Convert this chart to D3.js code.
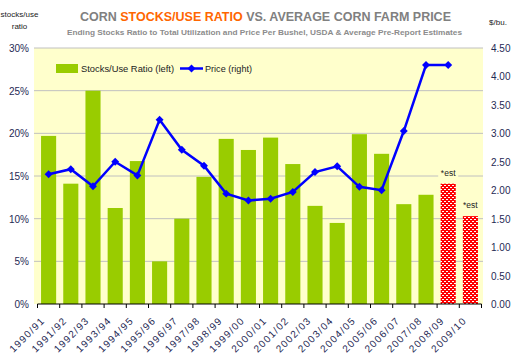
<!DOCTYPE html>
<html><head><meta charset="utf-8">
<script src="https://cdn.jsdelivr.net/npm/d3@7"></script>
<style>body{margin:0;background:#fff}svg{display:block}text{font-family:"Liberation Sans",Arial,sans-serif}</style>
</head><body><svg id="c" width="517" height="355"></svg>
<script>
const categories = ["1990/91","1991/92","1992/93","1993/94","1994/95","1995/96","1996/97","1997/98","1998/99","1999/00","2000/01","2001/02","2002/03","2003/04","2004/05","2005/06","2006/07","2007/08","2008/09","2009/10"];
const stocksUse = [19.7,14.1,25.0,11.25,16.75,5.0,10.0,14.9,19.35,18.05,19.5,16.4,11.5,9.5,19.9,17.6,11.7,12.8,14.1,10.3];
const estimated = [false,false,false,false,false,false,false,false,false,false,false,false,false,false,false,false,false,false,true,true];
const price = [2.28,2.37,2.07,2.50,2.26,3.24,2.71,2.43,1.94,1.82,1.85,1.97,2.32,2.42,2.06,2.00,3.04,4.20,4.20,null];
const leftTicks = [0,5,10,15,20,25,30];
const rightTicks = [0,0.5,1,1.5,2,2.5,3,3.5,4,4.5];

const svg = d3.select("#c");
const L = 37.5, R = 481.5, T = 48, B = 304;
const x = d3.scaleBand().domain(categories).range([L, R]).paddingInner(0.32).paddingOuter(0.16);
const yL = d3.scaleLinear().domain([0,30]).range([B,T]);
const yR = d3.scaleLinear().domain([0,4.5]).range([B,T]);
const labelCol = "#1f2a55";

const defs = svg.append("defs");
const pat = defs.append("pattern").attr("id","hatch").attr("patternUnits","userSpaceOnUse").attr("width",4).attr("height",4);
pat.append("rect").attr("width",4).attr("height",4).attr("fill","#ff0000");
pat.append("rect").attr("x",0).attr("y",1).attr("width",2).attr("height",1).attr("fill","#ffffff");
pat.append("rect").attr("x",2).attr("y",3).attr("width",2).attr("height",1).attr("fill","#ffffff");

// plot background
svg.append("rect").attr("x",34).attr("y",T).attr("width",483-34).attr("height",B-T).attr("fill","#ffffcc");

// gridlines
svg.append("g").selectAll("line").data(leftTicks.filter(d=>d>0)).join("line")
  .attr("x1",34).attr("x2",483).attr("y1",d=>yL(d)).attr("y2",d=>yL(d))
  .attr("stroke","#c0c0c0").attr("stroke-width",1);

// bars
svg.append("g").selectAll("rect").data(categories).join("rect")
  .attr("x",d=>x(d)).attr("width",x.bandwidth())
  .attr("y",(d,i)=>yL(stocksUse[i])).attr("height",(d,i)=>B-yL(stocksUse[i]))
  .attr("fill",(d,i)=>estimated[i]?"url(#hatch)":"#99cc00");

// est labels
categories.forEach((c,i)=>{
  if(!estimated[i]) return;
  const cx = x(c)+x.bandwidth()/2, yy = yL(stocksUse[i])-8;
  svg.append("rect").attr("x",cx-10).attr("y",yy-8).attr("width",20).attr("height",11).attr("fill","#ffffcc");
  svg.append("text").attr("x",cx).attr("y",yy).attr("text-anchor","middle").attr("font-size",8.5).attr("fill","#222").text("*est");
});

// price line
const pts = categories.map((c,i)=>({c,v:price[i]})).filter(d=>d.v!=null);
const line = d3.line().x(d=>x(d.c)+x.bandwidth()/2).y(d=>yR(d.v));
svg.append("path").datum(pts).attr("d",line).attr("fill","none").attr("stroke","#0000ff").attr("stroke-width",2.5);
svg.append("g").selectAll("path").data(pts).join("path")
  .attr("d",d3.symbol(d3.symbolDiamond2,40))
  .attr("transform",d=>`translate(${x(d.c)+x.bandwidth()/2},${yR(d.v)})`)
  .attr("fill","#0000ff");

// x axis
const xAxisG = svg.append("g").attr("transform",`translate(0,${B})`);
xAxisG.append("line").attr("x1",L).attr("x2",R).attr("stroke","#000").attr("stroke-width",1.2);
const tickPos = categories.map(c=>x(c)-x.step()*x.paddingInner()/2);
tickPos.push(R);
xAxisG.selectAll("line.t").data(tickPos).join("line").attr("class","t")
  .attr("x1",d=>d).attr("x2",d=>d).attr("y1",0).attr("y2",4).attr("stroke","#000");
xAxisG.selectAll("text").data(categories).join("text")
  .attr("transform",d=>`translate(${x(d)+x.bandwidth()/2-4},${18}) rotate(-45)`)
  .attr("text-anchor","end").attr("font-size",10).attr("fill",labelCol)
  .attr("textLength",44).attr("lengthAdjust","spacing").text(d=>d);

// left axis labels
svg.append("g").selectAll("text").data(leftTicks).join("text")
  .attr("x",29).attr("y",d=>yL(d)+4).attr("text-anchor","end").attr("font-size",10).attr("fill",labelCol)
  .text(d=>d+"%");
// right axis labels
svg.append("g").selectAll("text").data(rightTicks).join("text")
  .attr("x",491).attr("y",d=>yR(d)+4).attr("text-anchor","start").attr("font-size",10).attr("fill",labelCol)
  .text(d=>d.toFixed(2));

// axis titles
svg.append("text").attr("x",19.5).attr("y",17).attr("text-anchor","middle").attr("font-size",8).attr("fill","#222").text("stocks/use");
svg.append("text").attr("x",19.5).attr("y",29).attr("text-anchor","middle").attr("font-size",8).attr("fill","#222").text("ratio");
svg.append("text").attr("x",498).attr("y",25).attr("text-anchor","middle").attr("font-size",8).attr("fill","#222").text("$/bu.");

// title
const t = svg.append("text").attr("x",80).attr("y",21).attr("font-size",12.5).attr("font-weight","bold").attr("fill","#808080")
  .attr("textLength",371).attr("lengthAdjust","spacingAndGlyphs");
t.append("tspan").text("CORN ");
t.append("tspan").attr("fill","#ff6600").text("STOCKS/USE RATIO");
t.append("tspan").text(" VS. AVERAGE CORN FARM PRICE");
svg.append("text").attr("x",67).attr("y",34.5).attr("font-size",7.5).attr("font-weight","bold").attr("fill","#8c8c8c")
  .attr("textLength",395).attr("lengthAdjust","spacingAndGlyphs")
  .text("Ending Stocks Ratio to Total Utilization and Price Per Bushel, USDA & Average Pre-Report Estimates");

// legend
const lg = svg.append("g");
lg.append("rect").attr("x",56).attr("y",64).attr("width",22).attr("height",9).attr("fill","#99cc00");
lg.append("text").attr("x",81).attr("y",72).attr("font-size",9).attr("fill","#222")
  .attr("textLength",93).attr("lengthAdjust","spacingAndGlyphs").text("Stocks/Use Ratio (left)");
lg.append("line").attr("x1",180).attr("x2",203).attr("y1",68.5).attr("y2",68.5).attr("stroke","#0000ff").attr("stroke-width",2.5);
lg.append("path").attr("d",d3.symbol(d3.symbolDiamond2,40)).attr("transform","translate(191.5,68.5)").attr("fill","#0000ff");
lg.append("text").attr("x",205).attr("y",72).attr("font-size",9).attr("fill","#222")
  .attr("textLength",47).attr("lengthAdjust","spacingAndGlyphs").text("Price (right)");
</script></body></html>
